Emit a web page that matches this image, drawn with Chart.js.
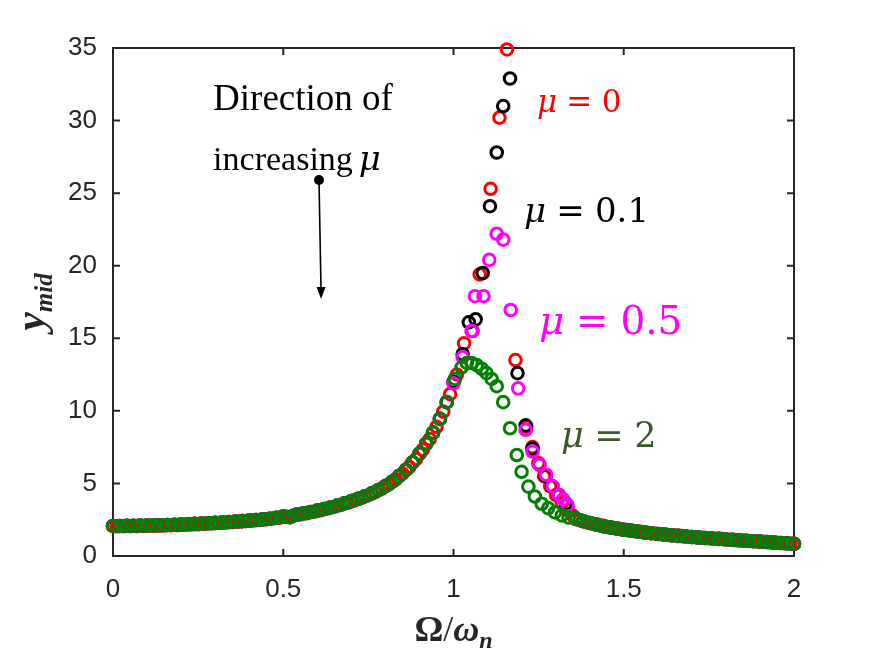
<!DOCTYPE html>
<html>
<head>
<meta charset="utf-8">
<script src="https://cdn.jsdelivr.net/npm/chart.js@4.4.0/dist/chart.umd.min.js"></script>
<style>
html,body{margin:0;padding:0;background:#ffffff;}
#wrap{width:875px;height:657px;position:relative;}
</style>
</head>
<body>
<div id="wrap"><canvas id="c" width="875" height="657"></canvas></div>
<script>
// ---------------- data ----------------
const xTickValues = [0, 0.5, 1, 1.5, 2];
const yTickValues = [0, 5, 10, 15, 20, 25, 30, 35];

// shared low-frequency branch, even grid (mu = 2, 0.5, 0.1)
const omegaEvenLow = [0.00,0.02,0.04,0.06,0.08,0.10,0.12,0.14,0.16,0.18,0.20,0.22,0.24,0.26,0.28,0.30,0.32,0.34,0.36,0.38,0.40,0.42,0.44,0.46,0.48,0.50,0.52,0.54,0.56,0.58,0.60,0.62,0.64,0.66,0.68,0.70,0.72,0.74,0.76,0.78,0.80,0.82,0.84,0.86,0.88,0.90,0.92,0.94,0.96,0.98];
const yEvenLow = [2.07,2.07,2.08,2.08,2.09,2.10,2.11,2.12,2.14,2.15,2.17,2.19,2.21,2.23,2.26,2.28,2.31,2.34,2.37,2.40,2.44,2.48,2.52,2.57,2.64,2.72,2.68,2.86,2.94,3.03,3.13,3.24,3.36,3.49,3.63,3.78,3.94,4.12,4.32,4.55,4.82,5.12,5.50,5.93,6.45,7.05,7.75,8.50,9.45,10.60];

// low-frequency branch, odd grid (mu = 0)
const omegaOddLow = [0.01,0.03,0.05,0.07,0.09,0.11,0.13,0.15,0.17,0.19,0.21,0.23,0.25,0.27,0.29,0.31,0.33,0.35,0.37,0.39,0.41,0.43,0.45,0.47,0.49,0.51,0.53,0.55,0.57,0.59,0.61,0.63,0.65,0.67,0.69,0.71,0.73,0.75,0.77,0.79,0.81,0.83,0.85,0.87,0.89,0.91,0.93,0.95,0.97,0.99];
const yOddLow = [2.05,2.05,2.06,2.06,2.07,2.08,2.09,2.10,2.12,2.13,2.15,2.17,2.19,2.21,2.24,2.27,2.30,2.33,2.36,2.40,2.44,2.48,2.53,2.58,2.64,2.70,2.78,2.86,2.95,3.05,3.15,3.27,3.39,3.52,3.67,3.83,4.00,4.19,4.40,4.65,4.93,5.27,5.67,6.13,6.68,7.33,8.05,8.90,9.95,11.15];

// resonance region, one pair per mu
const omegaPeakMu0 = [1.010,1.031,1.056,1.077,1.109,1.135,1.157,1.182,1.214,1.232,1.249,1.266,1.284,1.301,1.318,1.336,1.352];
const yPeakMu0 = [12.5,14.65,15.5,19.4,25.3,30.2,34.9,13.5,8.9,7.5,6.4,5.5,4.8,4.2,3.65,3.15,2.75];

const omegaPeakMu01 = [1.000,1.027,1.045,1.065,1.086,1.107,1.127,1.146,1.166,1.188,1.212,1.232,1.252,1.271,1.290,1.310,1.330];
const yPeakMu01 = [12.0,13.9,16.1,16.3,19.5,24.1,27.8,31.0,32.9,12.6,9.0,7.4,6.3,5.5,4.8,4.2,3.6];

const omegaPeakMu05 = [1.000,1.027,1.053,1.063,1.088,1.105,1.127,1.146,1.168,1.190,1.212,1.232,1.252,1.272,1.291,1.310,1.322,1.335];
const yPeakMu05 = [11.9,13.7,15.5,17.9,17.9,20.4,22.2,21.8,16.95,11.55,8.7,7.2,6.3,5.6,4.8,4.2,3.9,3.5];

const omegaPeakMu2 = [1.004,1.024,1.039,1.053,1.068,1.083,1.097,1.112,1.127,1.146,1.166,1.186,1.200,1.220,1.239,1.259,1.278,1.298,1.318,1.338];
const yPeakMu2 = [12.2,13.0,13.3,13.3,13.15,12.9,12.6,12.2,11.7,10.6,8.8,6.96,5.8,4.78,4.1,3.6,3.3,3.0,2.8,2.65];

// high-frequency tail
const omegaEvenTail = [1.36,1.38,1.40,1.42,1.44,1.46,1.48,1.50,1.52,1.54,1.56,1.58,1.60,1.62,1.64,1.66,1.68,1.70,1.72,1.74,1.76,1.78,1.80,1.82,1.84,1.86,1.88,1.90,1.92,1.94,1.96,1.98,2.00];
const yEvenTail = [2.55,2.40,2.27,2.16,2.06,1.97,1.89,1.81,1.75,1.69,1.63,1.57,1.52,1.47,1.43,1.39,1.35,1.31,1.27,1.24,1.21,1.18,1.14,1.11,1.08,1.05,1.02,0.99,0.96,0.93,0.90,0.87,0.84];
const omegaOddTail = [1.37,1.39,1.41,1.43,1.45,1.47,1.49,1.51,1.53,1.55,1.57,1.59,1.61,1.63,1.65,1.67,1.69,1.71,1.73,1.75,1.77,1.79,1.81,1.83,1.85,1.87,1.89,1.91,1.93,1.95,1.97,1.99];
const yOddTail = [2.47,2.33,2.21,2.11,2.01,1.93,1.85,1.78,1.72,1.66,1.60,1.55,1.50,1.45,1.41,1.37,1.33,1.29,1.26,1.22,1.19,1.16,1.12,1.09,1.06,1.03,1.00,0.97,0.94,0.91,0.88,0.85];

// ---------------- build ----------------
function pts(xs, ys) { return xs.map((x, i) => ({ x: x, y: ys[i] })); }
const dataMu0  = pts(omegaOddLow, yOddLow).concat(pts(omegaPeakMu0, yPeakMu0), pts(omegaOddTail, yOddTail));
const dataMu01 = pts(omegaEvenLow, yEvenLow).concat(pts(omegaPeakMu01, yPeakMu01), pts(omegaEvenTail, yEvenTail));
const dataMu05 = pts(omegaEvenLow, yEvenLow).concat(pts(omegaPeakMu05, yPeakMu05), pts(omegaEvenTail, yEvenTail));
const dataMu2  = pts(omegaEvenLow, yEvenLow).concat(pts(omegaPeakMu2, yPeakMu2), pts(omegaEvenTail, yEvenTail));

const AXIS = '#262626';
const SERIF = '"Liberation Serif", "Times New Roman", serif';
const MATH = '"DejaVu Serif", serif';

function drawRuns(ctx, runs, x, y, align) {
  let w = 0;
  runs.forEach(r => { ctx.font = r.font; r.w = ctx.measureText(r.text).width + (r.gap || 0); w += r.w; });
  let cx = align === 'center' ? x - w / 2 : x;
  runs.forEach(r => { ctx.font = r.font; ctx.fillText(r.text, cx, y + (r.dy || 0)); cx += r.w; });
}

const deco = {
  id: 'deco',
  beforeDatasetsDraw(chart) {
    const { ctx, chartArea: a, scales: { x, y } } = chart;
    ctx.save();
    ctx.strokeStyle = AXIS;
    ctx.lineWidth = 2;
    ctx.strokeRect(a.left, a.top, a.right - a.left, a.bottom - a.top);
    const tl = 7;
    ctx.beginPath();
    xTickValues.forEach(v => {
      const px = x.getPixelForValue(v);
      ctx.moveTo(px, a.bottom); ctx.lineTo(px, a.bottom - tl);
      ctx.moveTo(px, a.top); ctx.lineTo(px, a.top + tl);
    });
    yTickValues.forEach(v => {
      const py = y.getPixelForValue(v);
      ctx.moveTo(a.left, py); ctx.lineTo(a.left + tl, py);
      ctx.moveTo(a.right, py); ctx.lineTo(a.right - tl, py);
    });
    ctx.stroke();
    ctx.restore();
  },
  afterDraw(chart) {
    const { ctx, chartArea: a, scales: { x, y } } = chart;
    ctx.save();
    ctx.textBaseline = 'alphabetic';
    ctx.textAlign = 'left';

    // axis titles
    ctx.fillStyle = AXIS;
    drawRuns(ctx, [
      { text: 'Ω', font: 'bold 36px ' + SERIF },
      { text: '/', font: '36px ' + SERIF },
      { text: 'ω', font: 'italic bold 36px ' + SERIF },
      { text: 'n', font: 'italic bold 24px ' + SERIF, dy: 7 }
    ], (a.left + a.right) / 2, 641, 'center');

    ctx.save();
    ctx.translate(44, (a.top + a.bottom) / 2);
    ctx.rotate(-Math.PI / 2);
    drawRuns(ctx, [
      { text: 'y', font: 'italic bold 42px ' + SERIF },
      { text: 'mid', font: 'italic bold 25px ' + SERIF, dy: 8 }
    ], 0, 0, 'center');
    ctx.restore();

    // direction annotation
    ctx.fillStyle = '#000000';
    drawRuns(ctx, [{ text: 'Direction of', font: '37px ' + SERIF }], x.getPixelForValue(0.294), y.getPixelForValue(30.75), 'left');
    drawRuns(ctx, [
      { text: 'increasing', font: '34px ' + SERIF, gap: 6 },
      { text: 'μ', font: 'italic 34px ' + MATH }
    ], x.getPixelForValue(0.294), y.getPixelForValue(26.6), 'left');

    // arrow
    const x0 = x.getPixelForValue(0.605), y0 = y.getPixelForValue(25.9);
    const x1 = x.getPixelForValue(0.611), y1 = y.getPixelForValue(17.7);
    ctx.strokeStyle = '#000000';
    ctx.lineWidth = 1.6;
    ctx.beginPath(); ctx.moveTo(x0, y0); ctx.lineTo(x1, y1 - 8); ctx.stroke();
    ctx.beginPath(); ctx.arc(x0, y0, 5, 0, Math.PI * 2); ctx.fill();
    ctx.beginPath();
    ctx.moveTo(x1, y1); ctx.lineTo(x1 - 4.5, y1 - 12); ctx.lineTo(x1 + 4.5, y1 - 12); ctx.closePath(); ctx.fill();

    // mu labels
    const lab = (txt, col, size, vx, vy) => {
      ctx.fillStyle = col;
      drawRuns(ctx, [
        { text: 'μ', font: 'italic ' + size + 'px ' + MATH, gap: size * 0.3 },
        { text: '=', font: size + 'px ' + MATH, gap: size * 0.3 },
        { text: txt, font: size + 'px ' + MATH }
      ], x.getPixelForValue(vx), y.getPixelForValue(vy), 'left');
    };
    lab('0', '#ff0000', 31, 1.245, 30.6);
    lab('0.1', '#000000', 34, 1.207, 23.0);
    lab('0.5', '#ff00ff', 39, 1.251, 15.3);
    lab('2', '#3c5a28', 35, 1.316, 7.5);
    ctx.restore();
  }
};

const common = { backgroundColor: 'rgba(0,0,0,0)', pointRadius: 5.8, pointBorderWidth: 3, pointHoverRadius: 5.8, showLine: false, clip: false };

new Chart(document.getElementById('c').getContext('2d'), {
  type: 'scatter',
  data: {
    datasets: [
      Object.assign({ label: 'μ = 2', data: dataMu2, borderColor: '#008000', pointBorderColor: '#008000', order: 1 }, common),
      Object.assign({ label: 'μ = 0.5', data: dataMu05, borderColor: '#ff00ff', pointBorderColor: '#ff00ff', order: 2 }, common),
      Object.assign({ label: 'μ = 0.1', data: dataMu01, borderColor: '#000000', pointBorderColor: '#000000', order: 3 }, common),
      Object.assign({ label: 'μ = 0', data: dataMu0, borderColor: '#ff0000', pointBorderColor: '#ff0000', order: 4 }, common)
    ]
  },
  options: {
    responsive: false,
    animation: false,
    devicePixelRatio: 1,
    layout: { padding: { left: 0, top: 48, right: 81, bottom: 0 }, autoPadding: false },
    plugins: { legend: { display: false }, tooltip: { enabled: false } },
    events: [],
    scales: {
      x: {
        type: 'linear', min: 0, max: 2,
        afterBuildTicks: s => { s.ticks = xTickValues.map(v => ({ value: v })); },
        grid: { display: false, drawTicks: false },
        border: { display: false },
        ticks: { padding: 18, color: AXIS, font: { family: '"Liberation Sans", Arial, sans-serif', size: 26 }, maxRotation: 0, callback: v => String(v) },
        afterFit: s => { s.height = 101; }
      },
      y: {
        type: 'linear', min: 0, max: 35,
        afterBuildTicks: s => { s.ticks = yTickValues.map(v => ({ value: v })); },
        grid: { display: false, drawTicks: false },
        border: { display: false },
        ticks: { padding: 16, color: AXIS, font: { family: '"Liberation Sans", Arial, sans-serif', size: 26 }, callback: v => String(v) },
        afterFit: s => { s.width = 113; }
      }
    }
  },
  plugins: [deco]
});
</script>
</body>
</html>
